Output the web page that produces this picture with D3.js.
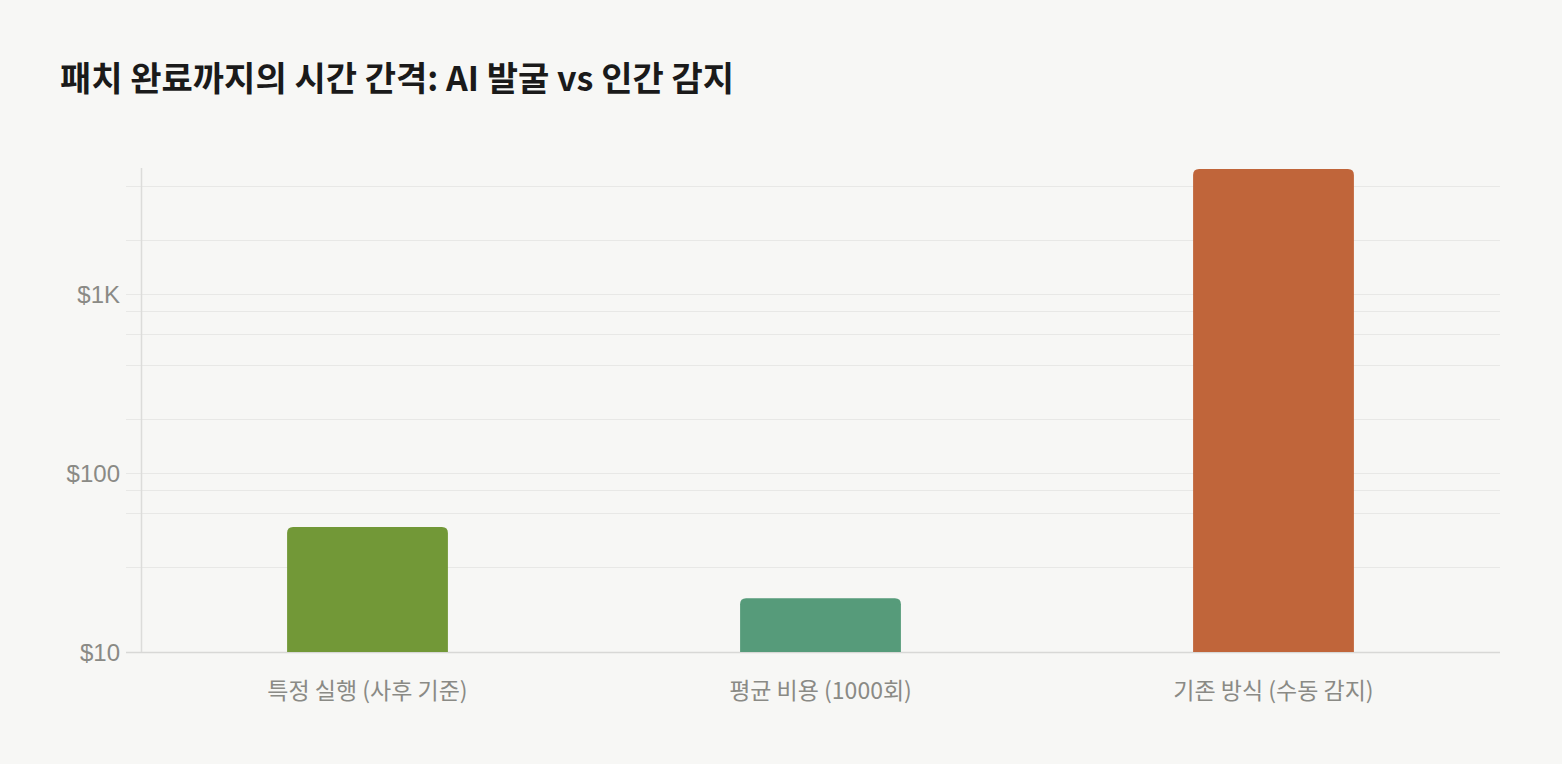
<!DOCTYPE html>
<html>
<head>
<meta charset="utf-8">
<script src="https://cdn.jsdelivr.net/npm/d3@7"></script>
<style>
  html, body { margin: 0; padding: 0; background: #f7f7f5; }
  svg { display: block; }
</style>
</head>
<body>
<div id="chart"></div>
<script>
var title = "패치 완료까지의 시간 간격: AI 발굴 vs 인간 감지";
var categories = ["특정 실행 (사후 기준)", "평균 비용 (1000회)", "기존 방식 (수동 감지)"];
var values = [50, 20, 5000];
var barColors = ["#729837", "#569b7a", "#c0653a"];
var gridValues = [10, 30, 60, 80, 100, 200, 400, 600, 800, 1000, 2000, 4000];
var labelValues = [10, 100, 1000];
var labelText = ["$10", "$100", "$1K"];

var width = 1562, height = 764;
var plotLeft = 141, plotRight = 1500, plotTop = 169, plotBottom = 652;

var svg = d3.select("#chart").append("svg")
    .attr("width", width)
    .attr("height", height);

svg.append("text")
    .attr("x", 60)
    .attr("y", 91)
    .attr("font-family", "'Noto Sans CJK KR', 'Noto Sans', sans-serif")
    .attr("font-weight", 700)
    .attr("font-size", 34)
    .attr("fill", "#1a1a1a")
    .text(title);

var x = d3.scaleBand()
    .domain(categories)
    .range([plotLeft, plotRight])
    .paddingInner(0.645)
    .paddingOuter(0.3225);

var y = d3.scaleLog()
    .domain([10, 5000])
    .range([plotBottom, plotTop]);

// grid lines (short tick past the axis on the left)
svg.append("g").selectAll("line").data(gridValues)
    .enter().append("line")
    .attr("x1", 126).attr("x2", plotRight)
    .attr("y1", function(d) { return Math.round(y(d)) + 0.5; })
    .attr("y2", function(d) { return Math.round(y(d)) + 0.5; })
    .attr("stroke", function(d) { return d == 10 ? "#d8d8d6" : "#e8e8e6"; })
    .attr("stroke-width", function(d) { return d == 10 ? 1.5 : 1.2; });

// left axis line
svg.append("line")
    .attr("x1", plotLeft + 0.5).attr("x2", plotLeft + 0.5)
    .attr("y1", plotTop - 1).attr("y2", plotBottom)
    .attr("stroke", "#dcdcda")
    .attr("stroke-width", 1.5);

svg.append("g").selectAll("text").data(labelValues)
    .enter().append("text")
    .attr("x", 120)
    .attr("y", function(d) { return y(d); })
    .attr("dy", "0.36em")
    .attr("text-anchor", "end")
    .attr("font-family", "'Liberation Sans', Arial, sans-serif")
    .attr("font-size", 24)
    .attr("fill", "#8a8a85")
    .text(function(d, i) { return labelText[i]; });

// bars with rounded top corners
function barPath(x0, w, yTop, yBase, r) {
    return "M" + x0 + "," + yBase +
        "V" + (yTop + r) +
        "Q" + x0 + "," + yTop + " " + (x0 + r) + "," + yTop +
        "H" + (x0 + w - r) +
        "Q" + (x0 + w) + "," + yTop + " " + (x0 + w) + "," + (yTop + r) +
        "V" + yBase + "Z";
}

svg.append("g").selectAll("path").data(values)
    .enter().append("path")
    .attr("d", function(d, i) {
        return barPath(x(categories[i]), x.bandwidth(), y(d), y(10), 6);
    })
    .attr("fill", function(d, i) { return barColors[i]; });

svg.append("g").selectAll("text").data(categories)
    .enter().append("text")
    .attr("x", function(d) { return x(d) + x.bandwidth() / 2; })
    .attr("y", 699)
    .attr("text-anchor", "middle")
    .attr("font-family", "'Noto Sans CJK KR', 'Noto Sans', sans-serif")
    .attr("font-size", 23)
    .attr("fill", "#8a8a85")
    .text(function(d) { return d; });
</script>
</body>
</html>
